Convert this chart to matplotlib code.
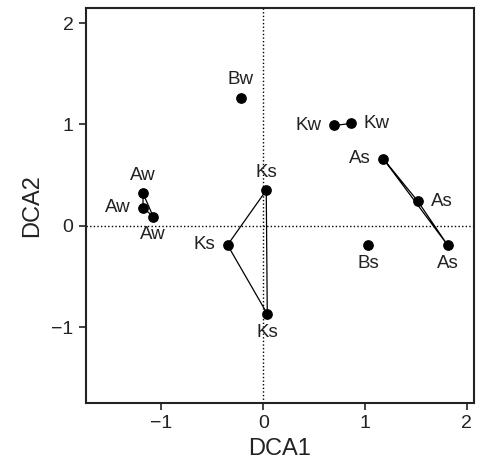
import matplotlib
matplotlib.use("Agg")
import matplotlib.pyplot as plt

plt.rcParams['font.family'] = ['Liberation Sans', 'DejaVu Sans']

labels = ["Bw", "Kw", "Kw", "As", "As", "As", "Bs", "Ks", "Ks", "Ks", "Aw", "Aw", "Aw"]
dca1 = [-0.22, 0.70, 0.86, 1.18, 1.52, 1.81, 1.03, 0.03, -0.35, 0.04, -1.18, -1.18, -1.08]
dca2 = [1.26, 0.99, 1.01, 0.66, 0.24, -0.19, -0.19, 0.35, -0.19, -0.87, 0.32, 0.18, 0.09]
# label placement: direction of label relative to point
label_pos = ["above", "left", "right", "left", "right", "below", "below",
             "above", "left", "below", "above", "left", "below"]
# connecting groups (indices)
groups = [[1, 2], [3, 4, 5, 3], [7, 8, 9, 7], [10, 11, 12, 10]]

fig = plt.figure(figsize=(4.78, 4.72), dpi=100)
ax = fig.add_axes([86/478, 1 - 403/472, (474-86)/478, (403-8)/472])

ax.axhline(0, color='black', lw=1.0, ls=(0, (1, 1.6)), zorder=1)
ax.axvline(0, color='black', lw=1.0, ls=(0, (1, 1.6)), zorder=1)

for g in groups:
    ax.plot([dca1[i] for i in g], [dca2[i] for i in g], color='black', lw=0.9, zorder=2)

ax.scatter(dca1, dca2, s=45, color='black', zorder=3)

offs = {"above": (0, 7, 'center', 'bottom'),
        "below": (0, -7, 'center', 'top'),
        "left": (-9, 0, 'right', 'center'),
        "right": (9, 0, 'left', 'center')}
for x, y, t, p in zip(dca1, dca2, labels, label_pos):
    dx, dy, ha, va = offs[p]
    ax.annotate(t, (x, y), xytext=(dx, dy), textcoords='offset points',
                ha=ha, va=va, fontsize=13.5, color='#222222')

ax.set_xlim(-1.74, 2.07)
ax.set_ylim(-1.75, 2.15)
ax.set_xticks([-1, 0, 1, 2])
ax.set_yticks([-1, 0, 1, 2])
ax.set_xticklabels(['\u22121', '0', '1', '2'])
ax.set_yticklabels(['\u22121', '0', '1', '2'])
ax.tick_params(direction='out', length=5, width=1.2, labelsize=14, colors='#222222', pad=4)
for s in ax.spines.values():
    s.set_linewidth(1.5)
    s.set_color('#222222')
ax.set_xlabel('DCA1', fontsize=17, color='#222222', labelpad=4)
ax.set_ylabel('DCA2', fontsize=17, color='#222222', labelpad=6)

fig.savefig('out.png', dpi=100)
